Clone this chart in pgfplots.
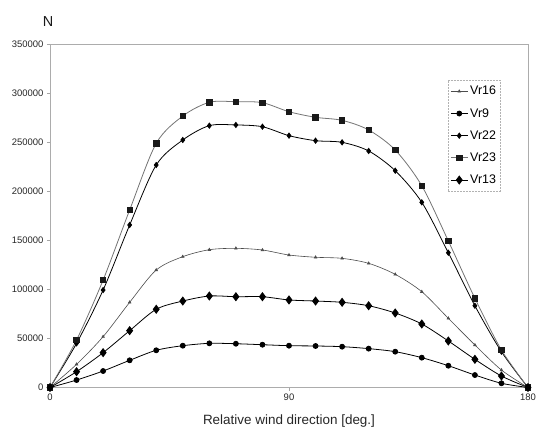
\documentclass[border=0pt]{standalone}
\usepackage{fontspec}
\setmainfont{Liberation Sans}
\usepackage{pgfplots}
\pgfplotsset{compat=1.18}
\begin{document}
\begin{tikzpicture}
\begin{axis}[
  scale only axis, width=478bp, height=343.5bp,
  xmin=0, xmax=180, ymin=0, ymax=350000,
  xtick={0,90,180}, ytick={0,50000,100000,150000,200000,250000,300000,350000},
  xtick pos=bottom, ytick pos=left,
  scaled y ticks=false,
  /pgf/number format/assume math mode=true,
  yticklabel style={/pgf/number format/.cd, fixed, 1000 sep={}},
  ticklabel style={font=\fontsize{9.5}{11}\selectfont, black!85},
  tick align=outside, major tick length=3bp, tick style={gray!70, line width=0.5pt},
  axis line style={gray!65, line width=0.6pt},
  xlabel={Relative wind direction [deg.]},
  xlabel style={font=\fontsize{13.5}{15}\selectfont, black!85, at={(axis description cs:0.5,0)}, anchor=center, yshift=-34bp},
  clip=false,
  legend style={at={(axis description cs:0.833,0.895)}, anchor=north west, draw=gray!60, dash pattern=on 2pt off 1pt, font=\fontsize{12.5}{14}\selectfont, row sep=8bp, inner xsep=2bp, inner ysep=4bp},
  legend cell align=left,
]
\addplot[solid, black!70, line width=0.6pt, smooth, tension=0.5, mark=triangle*, mark size=1.5pt, mark options={solid}] coordinates {
(0,0) (10,23600) (20,51800) (30,86800) (40,119700) (50,133300) (60,140400) (70,141800) (80,140100) (90,135000) (100,132700) (110,131600) (120,126500) (130,115300) (140,97600) (150,70500) (160,43300) (170,17800) (180,0)};
\addlegendentry{Vr16}
\addplot[solid, black, line width=0.8pt, smooth, tension=0.5, mark=*, mark size=2.5pt, mark options={solid}] coordinates {
(0,0) (10,7600) (20,16800) (30,27700) (40,37900) (50,42600) (60,45000) (70,44600) (80,43600) (90,42600) (100,42300) (110,41600) (120,39600) (130,36500) (140,30400) (150,22200) (160,12700) (170,4300) (180,0)};
\addlegendentry{Vr9}
\addplot[solid, black, line width=0.8pt, smooth, tension=0.5, mark=diamond*, mark size=2.6pt, mark options={solid}] coordinates {
(0,0) (10,45000) (20,99300) (30,165600) (40,226700) (50,252200) (60,266800) (70,267500) (80,265700) (90,256600) (100,251500) (110,249800) (120,241000) (130,220900) (140,188700) (150,137300) (160,83300) (170,36500) (180,0)};
\addlegendentry{Vr22}
\addplot[solid, black!55, line width=0.8pt, smooth, tension=0.5, mark=square*, mark size=2.7pt, mark options={solid, black!90}] coordinates {
(0,0) (10,48400) (20,109500) (30,180900) (40,248800) (50,276600) (60,290600) (70,291200) (80,290200) (90,281000) (100,275300) (110,272200) (120,262400) (130,242000) (140,205600) (150,149300) (160,90900) (170,38200) (180,0)};
\addlegendentry{Vr23}
\addplot[solid, black, line width=0.8pt, smooth, tension=0.5, mark=diamond*, mark size=4pt, mark options={solid}] coordinates {
(0,0) (10,16100) (20,35500) (30,57900) (40,79700) (50,88100) (60,93200) (70,92500) (80,92500) (90,89200) (100,88100) (110,86800) (120,83300) (130,75900) (140,64700) (150,47400) (160,28700) (170,11700) (180,0)};
\addlegendentry{Vr13}
\node[font=\fontsize{14.5}{16}\selectfont, black!90, anchor=center] at (rel axis cs:0,1) [xshift=-2bp, yshift=22bp] {N};
\end{axis}
\pgfresetboundingbox
\path[use as bounding box] ([shift={(-50bp,-42.5bp)}]current axis.south west) rectangle ([shift={(9bp,44bp)}]current axis.north east);
\end{tikzpicture}
\end{document}
